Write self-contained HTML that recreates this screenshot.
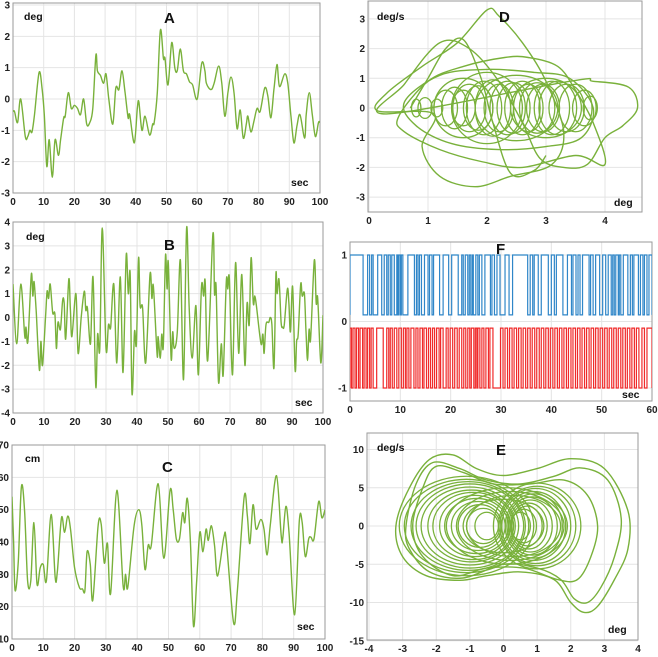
<!DOCTYPE html>
<html><head><meta charset="utf-8">
<style>
html,body{margin:0;padding:0;background:#fff;}
svg{display:block;font-family:"Liberation Sans",sans-serif;}
.tk{font-size:10px;font-weight:bold;fill:#222;}
.un{font-size:10.5px;font-weight:bold;fill:#111;}
.lt{font-size:15px;font-weight:bold;fill:#111;}
</style></head>
<body>
<svg id="fig" width="658" height="657" viewBox="0 0 658 657"></svg>
<script>
// ---- Panel A data (t sec, deg)
const aT=[0,0.5,1.5,2.5,4,4.8,5.5,6.2,7,8.5,9.5,10.2,11,11.8,12.8,13.7,14.8,15.5,16.5,17,18,19,20,21,22,23,24,25,26,27,27.5,28.5,29.5,30.3,31.2,32.5,33.5,34.5,35.5,36.5,37.5,38,39.5,40.5,41,42,43,44.5,45.5,46,47,48,49,49.5,50.5,51.7,52.7,53.5,54.5,55.5,56.5,57.5,58.5,60,61.5,62.5,63,64.5,65.5,67,68,69,70,71,72,73,74,75,76,76.5,77.5,78.5,79.5,80.5,82,83,84,85,86,86.8,88.5,89.5,90.5,91.5,92.5,93.5,95,95.5,96.5,97.5,98.5,99.5,100];
const aV=[-0.4,-0.4,-0.75,0,-1.2,-1.2,-1.0,-1.05,-0.5,0.85,0.3,-0.5,-2.15,-1.3,-2.5,-1.3,-1.8,-1.3,-0.6,-0.55,0.2,-0.3,-0.2,-0.3,-0.5,0,-0.8,-0.75,-0.3,1.4,0.9,0.75,0.5,0.8,0,-0.8,0.35,0.3,0.9,0.2,-0.6,-0.5,-1.4,-0.3,-0.1,-1.0,-0.55,-1.15,-0.8,-0.75,0.2,2.2,1.3,1.3,0.45,1.8,1.0,0.9,1.6,0.9,0.8,0.55,0.45,0,1.15,0.9,0.5,0.3,0.5,1.05,0.5,-0.55,0.2,0.7,0.2,-0.95,-0.35,-1.25,-0.8,-0.55,-1.05,-0.7,-0.3,-0.4,0.35,0.1,-0.6,0.3,1.1,0.4,0.8,0.5,-0.5,-1.4,-0.85,-0.5,-1.25,-0.5,0.2,-0.5,-1.2,-0.75,-0.75];
// ---- Panel B data
const bT=[0,1.2,2.5,3.8,4.2,4.8,5.9,6.4,6.8,7.5,8.5,9,9.5,10.5,11,11.5,12,12.8,13.5,14,14.5,15.3,16,16.5,17,18,18.5,19,20.3,21,22,23,23.5,24,25,25.8,26.7,27.3,28,28.8,30,30.8,31.5,32.5,33.5,34.6,35.5,36.5,37.2,37.8,38.4,39.2,39.8,40.5,41,41.8,42.8,44.2,44.8,45.3,46.5,46.8,47.5,48,48.5,49.2,49.7,50.1,51,51.5,52,53,54,55,56,56.8,57.8,59,59.8,60.8,61.5,62,62.8,64.5,65,65.5,66.3,67.2,67.8,68.8,69.3,69.8,70.8,71.8,72.8,73.8,74.8,75.5,76.2,76.8,77.5,78,78.5,80,80.6,81,81.6,82.5,83,83.5,84.2,84.8,85.2,85.8,86.5,87,87.5,88.5,89,89.5,90.2,91,91.5,92,92.8,93.3,94,94.5,95,95.5,96,97.2,97.8,98.3,99.3,100];
const bV=[1.4,-1.1,1.4,-0.8,-0.4,-1.0,1.8,0.9,1.5,0.2,-2.2,-1.0,-2.0,0,1.1,0.8,1.4,0.2,0.15,-1.3,-0.2,-0.5,0.7,0.6,-0.9,1.6,0.4,-0.8,1.0,-1.5,0,1.1,0.3,0.4,-1.1,1.7,-2.9,-0.7,-1.3,3.75,-1.3,-0.3,-0.4,1.4,-1.9,1.7,-2.3,2.6,1.0,1.8,-3.2,-0.6,-1.1,2.5,0.5,0.4,-1.9,1.8,0.8,1.3,-1.6,-0.8,-1.7,-0.7,-1.2,2.6,1.2,2.3,-1.7,-0.6,-1.3,-0.6,2.4,-2.6,3.75,0.5,-1.7,0.5,-2.4,1.3,0.9,1.5,-1.8,3.5,1.0,1.3,-2.7,-1.1,-2.4,1.5,1.2,1.6,-2.4,2.3,-1.5,1.8,-2.0,0.6,-0.3,2.5,0.6,0.9,0.5,-1.1,-0.7,-1.5,-0.3,-0.2,0,-0.3,-2.1,1.8,1.0,1.6,-0.2,-0.4,-0.3,1.2,0.6,-0.6,1.3,-2.2,-1.0,-0.7,1.4,0.9,1.0,-0.5,-1.8,-0.5,-0.9,2.4,0.6,0.8,-1.9,0.1];
// ---- Panel C data (cm)
const cT=[0,0.5,1,2,3,4,5,6,7,8,9,10,11,12.5,13.8,14.5,15.8,16.8,17.8,18.7,20,21.5,22.5,23.3,24,25,25.8,27.5,28.5,29.5,30.5,31.5,33.5,35.5,36.3,37,39,40.5,41.5,42.5,43.5,44.5,46.7,48.5,50.5,51.5,52.5,53.5,54.5,55.2,56,57,58,59,60,61,62,62.7,63.7,64.7,65.7,67.7,68.5,70.8,72,74.2,75.2,76,77,78,79.5,80.5,81.5,82.5,84.5,86,86.5,87.5,88.5,90.3,91.8,92.7,93.7,94.8,95.5,96.5,98,99,100];
const cV=[54,40,25,34,57,50,28,28,46,27,32,33,28,48.5,29,31,47.5,43,48,44,32,26,25.5,25,37,33,22,45,45.5,33.5,39.5,24,56,26.5,30,26,45,50,45,31.5,39,39,58,35,56,50,41,41,49,46,53.5,40,14,28,43,37,44,40.5,45,39,29.5,41.5,40,15,25,54,48,39.5,51.5,44,47,44,36,45,60.5,42,41,51,43,17.5,46.5,46,35.5,41,41.5,41,52.5,47.5,50];
// ---- Panel F data: intervals [start,end] where signal is high
const fBlueStart=[0,3.5,4.3,5.5,6.8,7.6,8.3,9.3,9.7,10.2,11.5,13.2,13.8,14.8,15.8,16.6,18.5,20.2,22.2,22.9,23.7,24.3,25,25.7,26.8,28.2,29.2,30.8,32.3,35.8,36.6,38,40,41,43.2,44.3,45.3,46.2,47.8,48.8,50.2,51.3,52.2,52.8,53.5,54.3,55.7,56.4,57.7,58.5,59.4];
const fBlueEnd=[2.6,3.9,4.6,6.3,7.3,8.0,8.8,9.5,10,10.5,12.8,13.5,14.2,15.5,16.3,17.8,19.6,21.5,22.5,23.4,24,24.5,25.4,26.2,27.9,28.7,29.8,31.6,35.3,36.3,37.4,39.4,40.6,42.3,44,44.9,45.7,47.5,48.3,49.6,50.8,51.9,52.5,53.3,53.8,55.2,56.1,57.3,58.2,59,60];
const fRedStart=[0,0.6,1.3,2.0,2.8,3.5,4.2,5.3,7.3,8.0,8.8,9.7,10.6,11.3,12.1,13.1,13.9,14.7,15.6,16.4,17.2,18.0,19.1,19.9,20.8,21.7,22.6,23.4,24.1,24.9,25.4,26.2,27.0,27.8,29.9,30.8,31.7,32.6,33.5,34.4,35.3,36.2,37.1,38.0,38.9,39.8,40.7,41.6,42.5,43.4,44.3,45.2,46.1,47.0,47.9,48.8,49.7,50.6,51.5,52.4,53.3,54.2,55.1,56.0,56.9,58.0,59.0];
const fRedEnd=[0.3,1.0,1.7,2.5,3.2,3.9,4.6,6.6,7.7,8.4,9.3,10.2,11.0,11.7,12.7,13.5,14.4,15.2,16.0,16.8,17.7,18.5,19.5,20.4,21.3,22.2,23.0,23.8,24.6,25.2,25.8,26.6,27.5,28.4,30.4,31.3,32.2,33.1,34.0,34.9,35.8,36.7,37.6,38.5,39.4,40.3,41.2,42.1,43.0,43.9,44.8,45.7,46.6,47.5,48.4,49.3,50.2,51.1,52.0,52.9,53.8,54.7,55.6,56.5,57.4,58.5,60];
// ---- Panel D data: trajectory strands (x deg, y deg/s) and small loops
const dX1=[0.15,0.3,0.9,1.5,2.0,2.2,2.6,3.0,3.3,3.1,2.4,1.8,1.2,0.9,1.1];
const dY1=[-0.1,0.5,1.4,2.2,3.3,3.1,2.2,0.9,-0.8,-1.9,-2.3,-2.65,-2.3,-1.3,-0.2];
const dX2=[0.3,0.6,1.2,1.7,2.2,2.6,2.9,3.3,3.7,4.0,4.3,4.55,4.4,3.8,3.4];
const dY2=[-0.2,0.8,2.2,2.0,0.9,-0.5,-1.7,-2.0,-1.9,-1.0,-0.6,0,0.7,0.9,0.9];
const dX3=[0.5,1.0,1.6,2.3,2.7,3.2,3.5,3.8,4.0,3.5,2.6,1.9,1.2,0.6];
const dY3=[-0.3,0.9,1.4,1.7,1.7,1.4,0.6,-0.5,-1.9,-1.6,-2.0,-1.8,-1.4,-0.8];
const dX4=[0.7,1.0,1.3,1.6,1.9,2.1,2.4,2.8,3.0];
const dY4=[0,1.0,2.0,2.3,1.0,-0.5,-2.2,-2.1,-1.6];
const dX5=[0.6,1.2,2.0,2.8,3.4,3.8,3.6,3.0,2.2,1.4,0.8];
const dY5=[0.2,1.1,1.3,1.2,1.0,0,-1.0,-1.3,-1.4,-1.2,-0.6];
const dLoopCx=[0.8,0.95,1.15,1.3,1.45,1.6,1.7,1.85,1.95,2.1,2.2,2.35,2.45,2.6,2.7,2.85,2.95,3.1,3.2,3.35,3.5,3.65,3.75,2.0,2.5,3.0,1.6];
const dLoopRx=[0.08,0.12,0.1,0.2,0.22,0.2,0.28,0.25,0.3,0.3,0.25,0.3,0.28,0.3,0.25,0.3,0.28,0.3,0.32,0.3,0.28,0.2,0.12,0.6,0.7,0.6,0.5];
const dLoopRy=[0.3,0.35,0.3,0.6,0.7,0.6,0.8,0.75,0.9,0.95,0.8,0.9,0.85,0.9,0.8,0.85,0.8,0.9,0.9,0.8,0.8,0.6,0.4,1.2,1.1,1.0,1.0];
// ---- Panel E data: outer loops and nested loops
const eX1=[-3.2,-2.8,-2.2,-1.5,-0.8,0,1,2,3,3.7,3.7,3.3,2.8,2.4,2.0,1.5,0.5,-0.5,-1.3,-2.3,-3.0];
const eY1=[0,5,8.7,9.3,7.5,6.6,7.5,8.8,7.5,2,-3,-7,-10.5,-11.3,-10,-7,-6,-6.5,-7.1,-6.5,-4];
const eX2=[-2.9,-2.6,-2.1,-1.3,-0.5,0.5,1.5,2.3,3.1,3.5,3.3,2.9,2.5,2.1,1.7,1.0,0,-1.2,-2.2,-2.8];
const eY2=[0,5.5,8.3,7.5,6.0,5.5,6.5,7.6,6,1,-4,-8,-10,-9.5,-7,-5.5,-5,-6.8,-6,-3];
const eX3=[-2.7,-2.4,-2.0,-1.2,-0.3,0.8,1.8,2.5,2.8,2.6,2.2,1.6,0.6,-0.5,-1.5,-2.4];
const eY3=[0,5,7.8,7.0,5.5,5.5,6.0,4,0,-4,-7,-7,-5.5,-5.5,-6.5,-4];
const eLoopCx=[-1.1,-1.1,-1.05,-1.0,-1.0,-0.95,-0.9,-0.85,-0.8,-0.75,-0.7,-0.6,-0.5,1.0,1.0,0.95,0.9,0.9,0.85,0.8,0.75,0.7,0.6,0.5,0.1,0.2,0.3,0.0];
const eLoopRx=[2.0,1.85,1.7,1.6,1.45,1.3,1.2,1.05,0.95,0.8,0.65,0.5,0.35,1.3,1.15,1.05,0.95,0.85,0.75,0.65,0.55,0.45,0.38,0.3,1.8,1.6,1.4,1.2];
const eLoopRy=[6.5,6.1,5.8,5.5,5.1,4.7,4.4,4.0,3.6,3.2,2.8,2.3,1.8,5.6,5.2,4.9,4.5,4.2,3.8,3.4,3.0,2.6,2.2,1.8,5.0,4.5,4.0,3.5];

const NS='http://www.w3.org/2000/svg';
const svg=document.getElementById('fig');
function mk(tag,attrs,parent){const e=document.createElementNS(NS,tag);for(const k in attrs)e.setAttribute(k,attrs[k]);(parent||svg).appendChild(e);return e;}
function lin(d0,d1,r0,r1){return v=>r0+(v-d0)*(r1-r0)/(d1-d0);}
function crPath(px,py,closed){
  const n=px.length;let d='M'+px[0].toFixed(1)+','+py[0].toFixed(1);
  const get=i=>{if(closed){i=(i+n)%n;}else{i=Math.max(0,Math.min(n-1,i));}return[px[i],py[i]];};
  const m=closed?n:n-1;
  for(let i=0;i<m;i++){const p0=get(i-1),p1=get(i),p2=get(i+1),p3=get(i+2);
    const c1=[p1[0]+(p2[0]-p0[0])/6,p1[1]+(p2[1]-p0[1])/6],c2=[p2[0]-(p3[0]-p1[0])/6,p2[1]-(p3[1]-p1[1])/6];
    d+='C'+c1[0].toFixed(1)+','+c1[1].toFixed(1)+' '+c2[0].toFixed(1)+','+c2[1].toFixed(1)+' '+p2[0].toFixed(1)+','+p2[1].toFixed(1);}
  return d+(closed?'Z':'');}
function panel(o){
  const g=mk('g',{});
  
  
  const sx=lin(o.xd[0],o.xd[1],o.xr[0],o.xr[1]),sy=lin(o.yd[0],o.yd[1],o.yr[0],o.yr[1]);
  const grid=mk('g',{},g);
  
  
  o.xt.forEach(v=>{const x=sx(v);mk('line',{x1:x,x2:x,y1:o.box[1],y2:o.box[3],stroke:'#e4e4e4','stroke-width':1},grid);
    const t=mk('text',{x:x,y:o.box[3]+12,'text-anchor':'middle',class:'tk'},g);t.textContent=v;
    
    });
  o.yt.forEach(v=>{const y=sy(v);mk('line',{x1:o.box[0],x2:o.box[2],y1:y,y2:y,stroke:'#e4e4e4','stroke-width':1},grid);
    const t=mk('text',{x:o.box[0]-3,y:y+3.5,'text-anchor':'end',class:'tk'},g);t.textContent=v;
    
    });
  const b=mk('rect',{x:o.box[0],y:o.box[1],width:o.box[2]-o.box[0],height:o.box[3]-o.box[1],fill:'none',stroke:'#9a9a9a','stroke-width':1},g);
  
  
  const clip=mk('clipPath',{id:'c'+o.name},g);mk('rect',{x:o.box[0],y:o.box[1],width:o.box[2]-o.box[0],height:o.box[3]-o.box[1]},clip);
  const pg=mk('g',{'clip-path':'url(#c'+o.name+')'},g);
  
  
  o.labels.forEach(l=>{const t=mk('text',{x:l[1],y:l[2],class:l[3]},g);t.textContent=l[0];
    
    });
  return {g:pg,sx,sy};
}
const GREEN='#79b13b';
function series(p,xs,ys,name,closed){
  const e=mk('path',{d:crPath(xs.map(p.sx),ys.map(p.sy),closed),fill:'none',stroke:GREEN,'stroke-width':1.4,'stroke-linejoin':'round'},p.g);
  
  
}
// Panel A
const pA=panel({name:'panel-a',box:[13,3,320,193],xd:[0,100],xr:[13,320],yd:[-3,3],yr:[193,5],
  xt:[0,10,20,30,40,50,60,70,80,90,100],yt:[-3,-2,-1,0,1,2,3],
  labels:[['deg',24,20,'un'],['A',164,23,'lt'],['sec',291,186,'un']]});
series(pA,aT,aV,'series-a-angle');
// Panel B
const pB=panel({name:'panel-b',box:[13,222,323,413],xd:[0,100],xr:[13,323],yd:[-4,4],yr:[413,222],
  xt:[0,10,20,30,40,50,60,70,80,90,100],yt:[-4,-3,-2,-1,0,1,2,3,4],
  labels:[['deg',26,240,'un'],['B',164,250,'lt'],['sec',295,406,'un']]});
series(pB,bT,bV,'series-b-angle');
// Panel C
const pC=panel({name:'panel-c',box:[12,445,325,639],xd:[0,100],xr:[12,325],yd:[10,70],yr:[639,445],
  xt:[0,10,20,30,40,50,60,70,80,90,100],yt:[10,20,30,40,50,60,70],
  labels:[['cm',25,462,'un'],['C',162,472,'lt'],['sec',297,630,'un']]});
series(pC,cT,cV,'series-c-displacement');
// Panel D
const pD=panel({name:'panel-d',box:[368,1,642,212],xd:[0,4],xr:[369,605],yd:[0,1],yr:[108,78.3],
  xt:[0,1,2,3,4],yt:[-3,-2,-1,0,1,2,3],
  labels:[['deg/s',377,20,'un'],['D',499,22,'lt'],['deg',614,206,'un']]});
series(pD,dX1,dY1,'series-d-strand-1',true);
series(pD,dX2,dY2,'series-d-strand-2',true);
series(pD,dX3,dY3,'series-d-strand-3',true);
series(pD,dX4,dY4,'series-d-strand-4',false);
series(pD,dX5,dY5,'series-d-strand-5',true);
dLoopCx.forEach((c,i)=>{const e=mk('ellipse',{cx:pD.sx(c),cy:pD.sy(0),rx:Math.abs(pD.sx(c+dLoopRx[i])-pD.sx(c)),ry:Math.abs(pD.sy(dLoopRy[i])-pD.sy(0)),fill:'none',stroke:GREEN,'stroke-width':1.3},pD.g);
  
  });
// Panel F
const pF=panel({name:'panel-f',box:[350,242,652,401],xd:[0,60],xr:[350,652],yd:[0,1],yr:[321.5,255],
  xt:[0,10,20,30,40,50,60],yt:[-1,0,1],
  labels:[['F',496,254,'lt'],['sec',622,398,'un']]});
function square(p,st,en,hi,lo,color,name){
  let d='';
  st.forEach((s,i)=>{const x0=p.sx(s),x1=p.sx(en[i]),nx=i+1<st.length?p.sx(st[i+1]):p.sx(60);
    d+=(i===0?'M'+x0+','+p.sy(lo):'')+'L'+x0+','+p.sy(hi)+'L'+x1+','+p.sy(hi)+'L'+x1+','+p.sy(lo)+'L'+nx+','+p.sy(lo);});
  const e=mk('path',{d:d,fill:'none',stroke:color,'stroke-width':1.2},p.g);
  
  
}
square(pF,fBlueStart,fBlueEnd,1,0.1,'#2f86c8','series-f-blue');
square(pF,fRedStart,fRedEnd,-0.1,-1,'#f02a2a','series-f-red');
// Panel E
const pE=panel({name:'panel-e',box:[367,433,638,640],xd:[-4,4],xr:[369,638],yd:[0,10],yr:[526,449.5],
  xt:[-4,-3,-2,-1,0,1,2,3,4],yt:[-15,-10,-5,0,5,10],
  labels:[['deg/s',377,451,'un'],['E',496,455,'lt'],['deg',608,633,'un']]});
series(pE,eX1,eY1,'series-e-outer-1',true);
series(pE,eX2,eY2,'series-e-outer-2',true);
series(pE,eX3,eY3,'series-e-outer-3',true);
eLoopCx.forEach((c,i)=>{const e=mk('ellipse',{cx:pE.sx(c),cy:pE.sy(0),rx:Math.abs(pE.sx(c+eLoopRx[i])-pE.sx(c)),ry:Math.abs(pE.sy(eLoopRy[i])-pE.sy(0)),fill:'none',stroke:GREEN,'stroke-width':1.3},pE.g);
  
  });
</script>
</body></html>
